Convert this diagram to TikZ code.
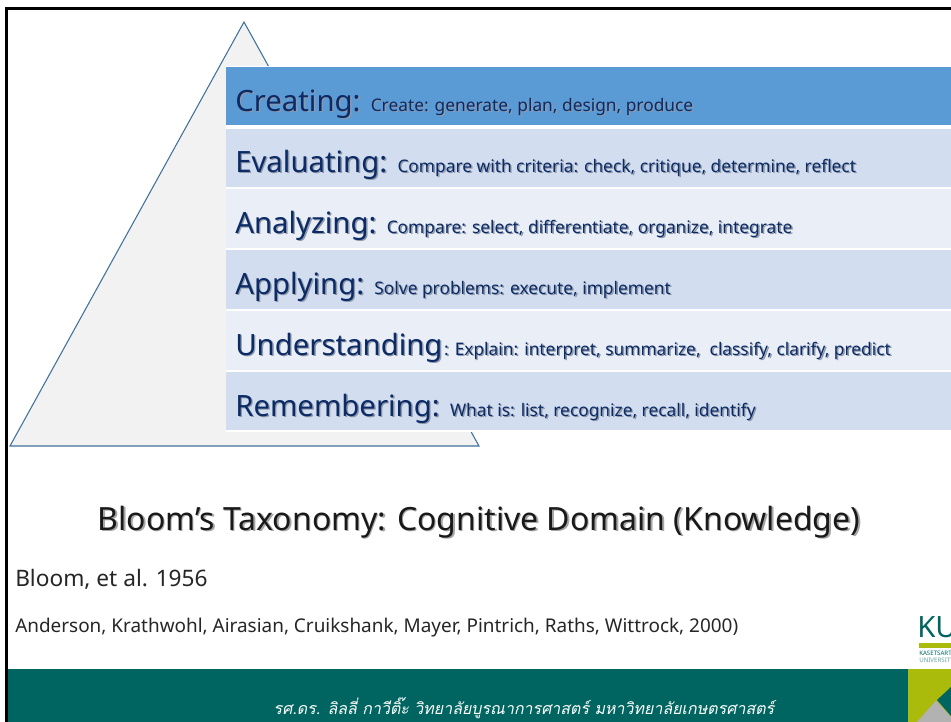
\documentclass[tikz,border=0pt]{standalone}
\usepackage{fontspec}
\setmainfont{Noto Sans}
\newfontfamily\thaifont[Script=Thai,FakeSlant=0.2]{Loma}
\definecolor{navy}{HTML}{0B2A66}
\definecolor{teal}{HTML}{006560}
\definecolor{lime}{HTML}{AABB0B}
\definecolor{rowa}{HTML}{D2DEEF}
\definecolor{rowb}{HTML}{EAEFF7}
\definecolor{rowtop}{HTML}{5B9BD5}
\definecolor{edge}{HTML}{41719C}
\definecolor{shade}{HTML}{8F98A8}
\newcommand{\rowtext}[5]{%
  \node[rowlabel,text=shade] at (#1+1.4,#2+1.6) {\fontsize{#3}{#3}\selectfont #4\hspace{0.35em}{\fontsize{13}{13}\selectfont #5}};
  \node[rowlabel] at (#1,#2) {\fontsize{#3}{#3}\selectfont #4\hspace{0.35em}{\fontsize{13}{13}\selectfont #5}};}
\tikzset{
  rowbox/.style={draw=none,anchor=north west,inner sep=0,minimum width=725*0.75pt},
  rowlabel/.style={anchor=base west,inner sep=0,text=navy},
  plain/.style={anchor=base west,inner sep=0,text=black!85}
}
\begin{document}
\begin{tikzpicture}[x=0.75pt,y=-0.75pt]
\useasboundingbox (0,0) rectangle (951,722);
\clip (0,0) rectangle (951,722);
\fill[white] (0,0) rectangle (951,722);
% frame
\fill[black] (5,7) rectangle (951,9.5);
\fill[black] (5,7) rectangle (7.5,722);
% pyramid
\draw[draw=edge,fill=black!5,line width=0.8pt,line join=miter] (244,22) -- (479,446) -- (10,446) -- cycle;
% rows
\fill[white] (226,66) rectangle (951,432);
\fill[rowtop] (226,67) rectangle (951,125);
\fill[rowa] (226,129) rectangle (951,187);
\fill[rowb] (226,188.5) rectangle (951,248);
\fill[rowa] (226,249.5) rectangle (951,309);
\fill[rowb] (226,310.5) rectangle (951,370);
\fill[rowa] (226,371.5) rectangle (951,430);
\rowtext{235}{111}{22}{Creating:}{Create: generate, plan, design, produce}
\rowtext{235}{172}{22}{Evaluating:}{Compare with criteria: check, critique, determine, reflect}
\rowtext{235}{233}{22}{Analyzing:}{Compare: select, differentiate, organize, integrate}
\rowtext{235}{294}{22}{Applying:}{Solve problems: execute, implement}
\rowtext{235}{355}{22}{Understanding}{\hspace{-0.5em}: Explain: interpret, summarize,\ \ classify, clarify, predict}
\rowtext{235}{416}{22}{Remembering:}{What is: list, recognize, recall, identify}
% title
\node[anchor=base,inner sep=0,text=black!35] at (480.5,531.5) {\fontsize{24}{24}\selectfont\bfseries Bloom's Taxonomy: Cognitive Domain (Knowledge)};
\node[anchor=base,inner sep=0,text=black!90] at (479,530) {\fontsize{24}{24}\selectfont\bfseries Bloom's Taxonomy: Cognitive Domain (Knowledge)};
\node[plain] at (15,586) {\fontsize{17}{17}\selectfont Bloom, et al. 1956};
\node[plain] at (15,632) {\fontsize{14.2}{14.2}\selectfont Anderson, Krathwohl, Airasian, Cruikshank, Mayer, Pintrich, Raths, Wittrock, 2000)};
% logo
\node[anchor=base west,inner sep=0,text=teal] at (917,637) {\fontsize{22}{22}\selectfont\bfseries KU};
\fill[lime] (919,643) rectangle (951,648);
\node[anchor=base west,inner sep=0,text=teal] at (919,655) {\fontsize{4.6}{4.6}\selectfont\bfseries KASETSART};
\node[anchor=base west,inner sep=0,text=teal!60] at (919,662) {\fontsize{4.6}{4.6}\selectfont UNIVERSITY};
% footer
\fill[teal] (7.5,669) rectangle (951,722);
\fill[lime] (908,669) rectangle (951,722);
\fill[black!30] (917,722) -- (936,700.5) -- (951,717) -- (951,722) -- cycle;
\fill[teal] (937,700) -- (951,687) -- (951,716) -- cycle;
\node[anchor=base,inner sep=0,text=white] at (524,714) {\fontsize{12}{12}\selectfont\thaifont รศ.ดร. ลิลลี่ กาวีติ๊ะ วิทยาลัยบูรณาการศาสตร์ มหาวิทยาลัยเกษตรศาสตร์};
\end{tikzpicture}
\end{document}
